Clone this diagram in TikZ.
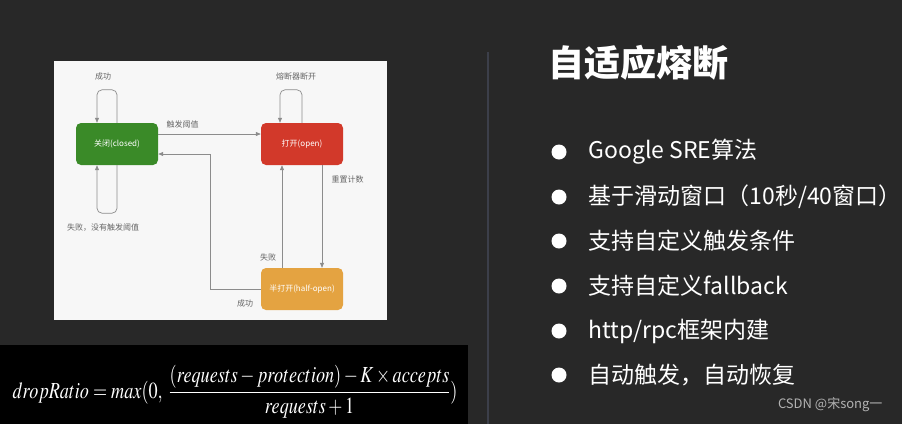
\documentclass[tikz,border=0pt]{standalone}
\usepackage{mathptmx}
\usepackage[no-math]{fontspec}
\setmainfont{Noto Sans CJK SC}
\usetikzlibrary{arrows.meta}

\definecolor{slideBg}{HTML}{282828}
\definecolor{panelBg}{HTML}{F7F7F7}
\definecolor{sepLine}{HTML}{3C3F4A}
\definecolor{closedGreen}{HTML}{3A8A28}
\definecolor{openRed}{HTML}{D2392A}
\definecolor{halfOrange}{HTML}{E4A341}

\begin{document}
\begin{tikzpicture}[
    x=1pt, y=-1pt,
    state/.style={rounded corners=5pt, minimum width=82pt, minimum height=42pt,
        inner sep=0pt, text=white, font=\fontsize{8}{9}\selectfont},
    arr/.style={-{Triangle[length=5pt, width=4pt]}, draw=black!45, line width=0.7pt},
    lbl/.style={font=\fontsize{8}{9}\selectfont, text=black!60},
    item/.style={anchor=west, text=white, font=\fontsize{23}{26}\selectfont},
]

% Slide background
\useasboundingbox[fill=slideBg] (0,0) rectangle (902,424);

% Diagram panel
\fill[panelBg] (54,61) rectangle (387,320);

% States
\node[state, fill=closedGreen] (closed) at (117,144) {关闭(closed)};
\node[state, fill=openRed] (open) at (302,144) {打开(open)};
\node[state, fill=halfOrange] (half) at (302,289) {半打开(half-open)};
\coordinate (bend) at (210,154);

% Self loops
\draw[arr, rounded corners=5pt] (closed.north) -- ++(0,-33)
    -| ([xshift=-20pt]closed.north);
\draw[arr, rounded corners=5pt] (closed.south) -- ++(0,48)
    -| ([xshift=-20pt]closed.south);
\draw[arr, rounded corners=5pt] (open.north) -- ++(0,-33)
    -| ([xshift=-22pt]open.north);

% Transitions
\draw[arr] ([yshift=10pt]closed.east) -- ([yshift=10pt]open.west);
\draw[arr] ([xshift=20pt]open.south) -- ([xshift=20pt]half.north);
\draw[arr] ([xshift=-20pt]half.north) -- ([xshift=-20pt]open.south);
\draw[arr] (half.west) -| (bend) -- ([yshift=-10pt]closed.east);

% Transition labels
\node[lbl] (lblOk) at (103,76) {成功};
\node[lbl] (lblFailStay) at (103,228) {失败，没有触发阈值};
\node[lbl] (lblBreak) at (296,76) {熔断器断开};
\node[lbl, anchor=west] (lblTrigger) at (163,124) {触发阈值};
\node[lbl, anchor=west] (lblReset) at (328,179) {重置计数};
\node[lbl] (lblFail) at (268,257) {失败};
\node[lbl] (lblOkHalf) at (245,303) {成功};

% Formula strip
\fill[black] (0,345) rectangle (468,424);
\node[text=white, font=\fontsize{23}{26}\selectfont] (formula) at (235,392)
    {\scalebox{0.79}[1]{$\displaystyle dropRatio = max(0,\; \frac{(requests - protection) - K \times accepts}{requests + 1})$}};

% Right column
\draw[sepLine, line width=1.2pt] (488,52) -- (488,424);
\node[anchor=west, text=white, font=\bfseries\fontsize{36}{40}\selectfont] (title)
    at (545,63) {自适应熔断};

\fill[white] (559,152) circle (7.5pt);
\node[item] (item1) at (585,152) {Google SRE算法};
\fill[white] (559,197) circle (7.5pt);
\node[item] (item2) at (585,197) {基于滑动窗口（10秒/40窗口）};
\fill[white] (559,241) circle (7.5pt);
\node[item] (item3) at (585,241) {支持自定义触发条件};
\fill[white] (559,286) circle (7.5pt);
\node[item] (item4) at (585,286) {支持自定义fallback};
\fill[white] (559,331) circle (7.5pt);
\node[item] (item5) at (585,331) {http/rpc框架内建};
\fill[white] (559,375) circle (7.5pt);
\node[item] (item6) at (585,375) {自动触发，自动恢复};

% Watermark
\node[anchor=east, text=white!70!black, font=\fontsize{13}{15}\selectfont] (mark)
    at (886,405) {CSDN @宋song一};

\end{tikzpicture}
\end{document}
